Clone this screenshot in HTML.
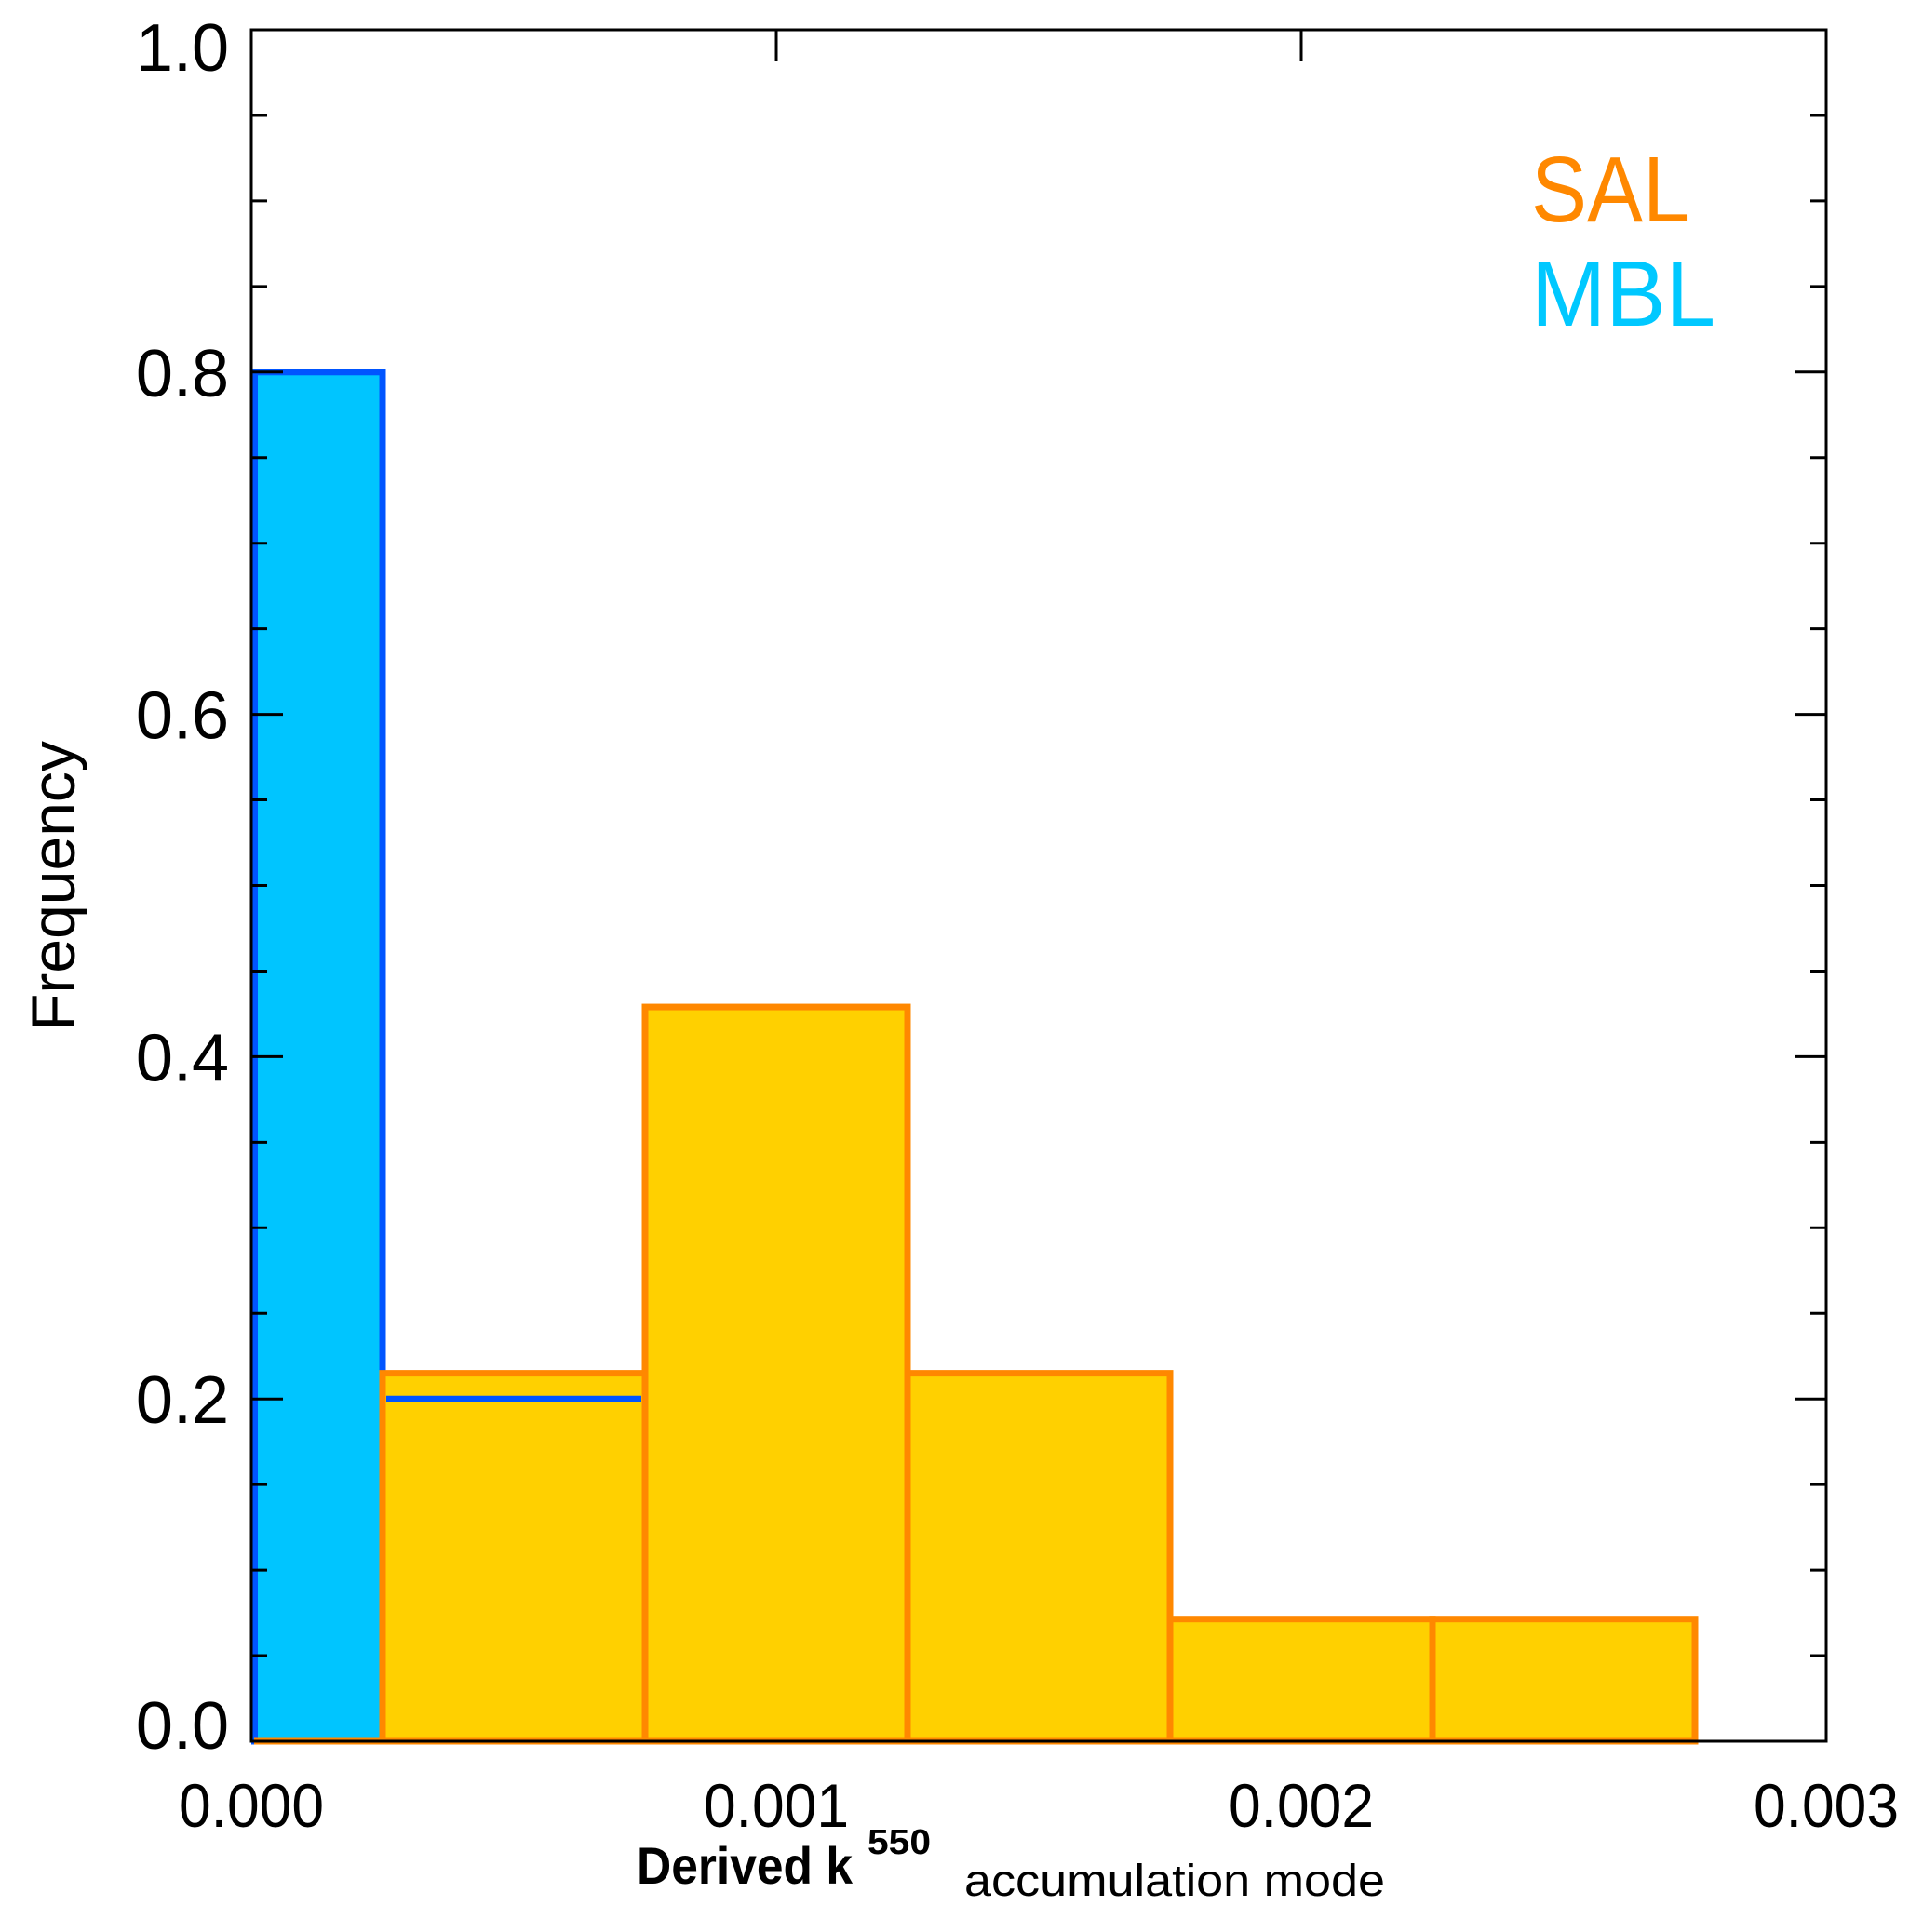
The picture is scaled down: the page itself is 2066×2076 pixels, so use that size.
<!DOCTYPE html>
<html><head><meta charset="utf-8"><style>
html,body{margin:0;padding:0;background:#fff;}
svg{display:block;}
text{font-family:"Liberation Sans",sans-serif;fill:#000;}
</style></head><body>
<svg id="chart" width="2066" height="2076" viewBox="0 0 2066 2076" xmlns="http://www.w3.org/2000/svg">
<g id="bars"></g>
<g id="axes"></g>
<text x="1645" y="238" font-size="100" textLength="170" lengthAdjust="spacingAndGlyphs" style="fill:#FF8800">SAL</text>
<text x="1645" y="350" font-size="100" textLength="198" lengthAdjust="spacingAndGlyphs" style="fill:#00C8FF">MBL</text>
<text transform="translate(80,952) rotate(-90)" text-anchor="middle" font-size="66">Frequency</text>
<text x="684" y="2024" font-size="56" font-weight="bold" textLength="232" lengthAdjust="spacingAndGlyphs">Derived  k</text>
<text x="932" y="1992" font-size="38" font-weight="bold" textLength="68" lengthAdjust="spacingAndGlyphs">550</text>
<text x="1036" y="2037" font-size="48" textLength="452" lengthAdjust="spacingAndGlyphs">accumulation mode</text>
</svg>
<script>
const binEdges = [0, 0.00025, 0.00075, 0.00125, 0.00175, 0.00225, 0.00275];
const salValues = [0, 0.215, 0.429, 0.215, 0.0714, 0.0714];
const mblValues = [0.8, 0.2, 0, 0, 0, 0];
const yTicks = [0, 0.2, 0.4, 0.6, 0.8, 1.0];
const yTickLabels = ["0.0", "0.2", "0.4", "0.6", "0.8", "1.0"];
const xTicks = [0, 0.001, 0.002, 0.003];
const xTickLabels = ["0.000", "0.001", "0.002", "0.003"];

const L = 270, R = 1962, T = 32, B = 1879 - 8;
const xs = v => L + (v / 0.003) * (R - L);
const ys = v => B - v * (B - T);
const NS = "http://www.w3.org/2000/svg";
const bars = document.getElementById('bars');
const axes = document.getElementById('axes');
function mk(tag, attrs, parent) {
  const e = document.createElementNS(NS, tag);
  for (const k in attrs) e.setAttribute(k, attrs[k]);
  parent.appendChild(e);
  return e;
}
const m0 = mk('rect', {x: xs(binEdges[0]) + 3.5, y: ys(mblValues[0]), width: xs(binEdges[1]) - xs(binEdges[0]) - 3.5, height: ys(0) - ys(mblValues[0]), fill: '#00C5FF', stroke: '#0055FF', 'stroke-width': 7}, bars);


for (let i = 0; i < salValues.length; i++) {
  const x0 = xs(binEdges[i]), x1 = xs(binEdges[i + 1]);
  let el;
  if (salValues[i] > 0) {
    el = mk('rect', {x: x0, y: ys(salValues[i]), width: x1 - x0, height: ys(0) - ys(salValues[i]), fill: '#FFD000', stroke: '#FF8800', 'stroke-width': 7}, bars);
  } else {
    el = mk('line', {x1: x0 + 3, x2: x1, y1: ys(0), y2: ys(0), stroke: '#FF8800', 'stroke-width': 7}, bars);
  }
  
  
}
for (let i = 1; i < mblValues.length; i++) {
  if (mblValues[i] <= 0) continue;
  const el = mk('line', {x1: xs(binEdges[i]) + 4, x2: xs(binEdges[i + 1]) - 4, y1: ys(mblValues[i]), y2: ys(mblValues[i]), stroke: '#0055FF', 'stroke-width': 7}, bars);
  
  
}
const fr = mk('rect', {x: L, y: T, width: R - L, height: B - T, fill: 'none', stroke: '#000', 'stroke-width': 3}, axes);


for (let v = 0.05; v < 1; v += 0.05) {
  const y = ys(v);
  const isMajor = Math.abs(v * 5 - Math.round(v * 5)) < 1e-6;
  const len = isMajor ? 34 : 17;
  mk('line', {x1: L, x2: L + len, y1: y, y2: y, stroke: '#000', 'stroke-width': 3}, axes);
  mk('line', {x1: R, x2: R - len, y1: y, y2: y, stroke: '#000', 'stroke-width': 3}, axes);
}
for (let i = 0; i < yTicks.length; i++) {
  let y = ys(yTicks[i]) + 26;
  if (i === 0) y -= 18;
  if (i === yTicks.length - 1) y += 18;
  const t = mk('text', {x: 246, y: y, 'font-size': 72, 'text-anchor': 'end'}, axes);
  t.textContent = yTickLabels[i];
  
  
}
for (let i = 0; i < xTicks.length; i++) {
  const x = xs(xTicks[i]);
  mk('line', {x1: x, x2: x, y1: T, y2: T + 34, stroke: '#000', 'stroke-width': 3}, axes);
  const t = mk('text', {x: x, y: 1963, 'font-size': 66, 'text-anchor': 'middle', textLength: 156, lengthAdjust: 'spacingAndGlyphs'}, axes);
  t.textContent = xTickLabels[i];
  
  
}
</script>
</body></html>
